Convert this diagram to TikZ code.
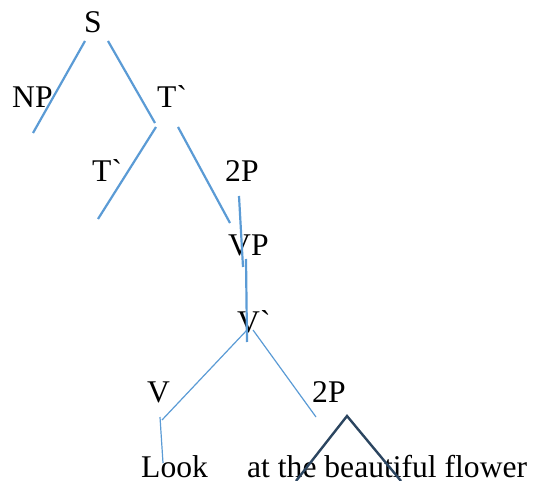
\documentclass[tikz,border=0pt]{standalone}
\usepackage{fontspec}
\newfontfamily\tnr{Liberation Serif}
\definecolor{lineblue}{HTML}{5B9BD5}
\definecolor{navy}{HTML}{2B4560}
\tikzset{
  lbl/.style={anchor=base west, inner sep=0pt, font=\tnr\fontsize{31.6}{36}\selectfont},
  thick branch/.style={draw=lineblue, line width=2.2pt},
  thin branch/.style={draw=lineblue, line width=1.2pt},
  tri/.style={draw=navy, line width=2.4pt}
}
\begin{document}
\begin{tikzpicture}[x=1pt,y=-1pt]
\useasboundingbox (0,0) rectangle (533,481);
% labels
\node[lbl] (S) at (84,33) {S};
\node[lbl] (NP) at (12,108) {NP};
\node[lbl] (T1) at (157,108) {T`};
\node[lbl] (T2) at (92,182) {T`};
\node[lbl] (QP1) at (225,182) {2P};
\node[lbl] (VP) at (228,256) {VP};
\node[lbl] (Vb) at (237,332) {V`};
\node[lbl] (V) at (147,402) {V};
\node[lbl] (QP2) at (312,402) {2P};
\node[lbl] (look) at (141,477) {Look};
\node[lbl] (phrase) at (247,477) {at the beautiful flower};
% endpoints
\coordinate (a1) at (85,41);   \coordinate (a2) at (33,133);
\coordinate (b1) at (108,41);  \coordinate (b2) at (155,123);
\coordinate (c1) at (156,127); \coordinate (c2) at (98,219);
\coordinate (d1) at (178,127); \coordinate (d2) at (230,223);
\coordinate (e1) at (239,196); \coordinate (e2) at (243,267);
\coordinate (f1) at (246,259); \coordinate (f2) at (247,342);
\coordinate (g1) at (247,330); \coordinate (g2) at (162,420);
\coordinate (h1) at (253,330); \coordinate (h2) at (316,417);
\coordinate (i1) at (160,417); \coordinate (i2) at (163,463);
\coordinate (t0) at (347,416); \coordinate (tl) at (296,481); \coordinate (tr) at (401,481);
% branches
\draw[thick branch] (a1) -- (a2);
\draw[thick branch] (b1) -- (b2);
\draw[thick branch] (c1) -- (c2);
\draw[thick branch] (d1) -- (d2);
\draw[thick branch] (e1) -- (e2);
\draw[thick branch] (f1) -- (f2);
\draw[thin branch] (g1) -- (g2);
\draw[thin branch] (h1) -- (h2);
\draw[thin branch] (i1) -- (i2);
\draw[tri] (tl) -- (t0) -- (tr);
\end{tikzpicture}
\end{document}
